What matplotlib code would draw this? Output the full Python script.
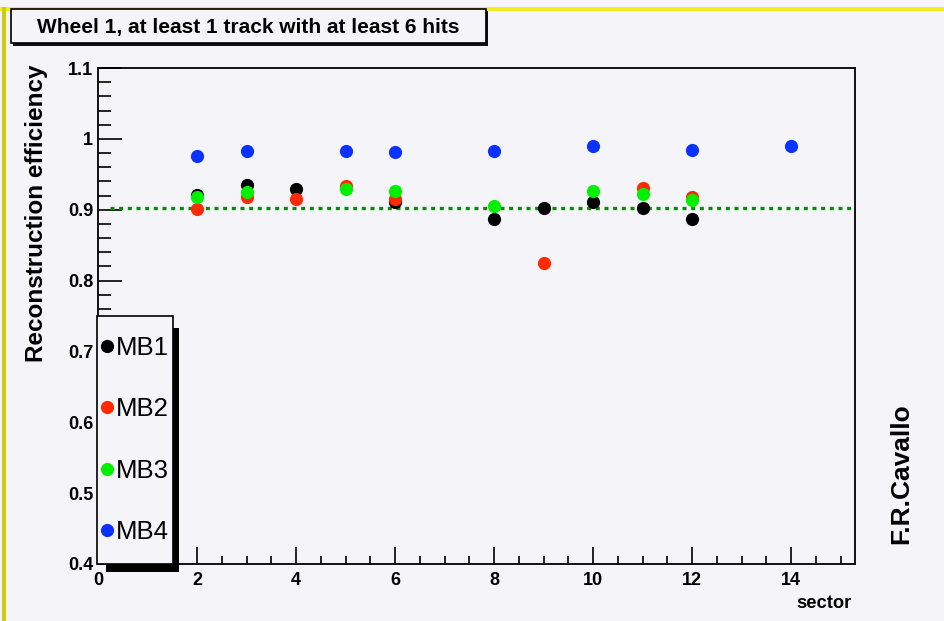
import matplotlib
matplotlib.use("Agg")
import matplotlib.pyplot as plt
from matplotlib import font_manager as fm
from matplotlib.patches import Rectangle
from matplotlib.ticker import MultipleLocator, FuncFormatter

# ---------------- data ----------------
title = "Wheel 1, at least 1 track with at least 6 hits"
x_label = "sector"
y_label = "Reconstruction efficiency"
author = "F.R.Cavallo"
reference_level = 0.9025

mb1_sector = [2, 3, 4, 6, 8, 9, 10, 11, 12]
mb1_eff = [0.921, 0.935, 0.929, 0.911, 0.887, 0.902, 0.911, 0.902, 0.887]

mb2_sector = [2, 3, 4, 5, 6, 9, 11, 12]
mb2_eff = [0.901, 0.918, 0.915, 0.933, 0.915, 0.825, 0.931, 0.918]

mb3_sector = [2, 3, 5, 6, 8, 10, 11, 12]
mb3_eff = [0.918, 0.925, 0.929, 0.926, 0.905, 0.926, 0.922, 0.914]

mb4_sector = [2, 3, 5, 6, 8, 10, 12, 14]
mb4_eff = [0.976, 0.983, 0.983, 0.981, 0.983, 0.990, 0.984, 0.990]

series_names = ["MB1", "MB2", "MB3", "MB4"]
series_colors = ["#000000", "#ff2a00", "#00f000", "#0a32ff"]

# ---------------- style ----------------
names = {f.name for f in fm.fontManager.ttflist}
base = "Liberation Sans" if "Liberation Sans" in names else "DejaVu Sans"
plt.rcParams["font.family"] = [base, "DejaVu Sans"]

bg = "#f5f4f8"
W, H = 944, 621
fig = plt.figure(figsize=(W / 100, H / 100), dpi=100, facecolor=bg)

def px(x0, y0, x1, y1):
    return [x0 / W, 1 - y1 / H, (x1 - x0) / W, (y1 - y0) / H]

def frect(x0, y0, x1, y1, **kw):
    r = Rectangle((x0 / W, 1 - y1 / H), (x1 - x0) / W, (y1 - y0) / H,
                  transform=fig.transFigure, **kw)
    fig.patches.append(r)
    return r

ax = fig.add_axes(px(98, 68, 855, 564))
ax.set_facecolor(bg)
ax.set_xlim(0, 15.29)
ax.set_ylim(0.4, 1.1)

for s in ax.spines.values():
    s.set_linewidth(1.3)

ax.xaxis.set_major_locator(MultipleLocator(2))
ax.xaxis.set_minor_locator(MultipleLocator(0.5))
ax.yaxis.set_major_locator(MultipleLocator(0.1))
ax.yaxis.set_minor_locator(MultipleLocator(0.02))
ax.yaxis.set_major_formatter(FuncFormatter(lambda v, p: f"{v:g}"))
ax.xaxis.set_major_formatter(FuncFormatter(lambda v, p: f"{v:g}"))

ax.tick_params(axis="y", which="major", direction="in", length=17, width=1.2, pad=3.5,
               labelsize=13, right=False)
ax.tick_params(axis="y", which="minor", direction="in", length=9.5, width=1.2, right=False)
ax.tick_params(axis="x", which="major", direction="in", length=12, width=1.2, pad=6,
               labelsize=13, top=False)
ax.tick_params(axis="x", which="minor", direction="in", length=6, width=1.2, top=False)
for lab in ax.get_xticklabels() + ax.get_yticklabels():
    lab.set_fontweight("bold")

# reference line
ax.hlines(reference_level, 0.25, 15.29, colors="#0a8a0a", linewidth=2.4,
          linestyles=(0, (1.2, 1.4)), zorder=2)

all_x = [mb1_sector, mb2_sector, mb3_sector, mb4_sector]
all_y = [mb1_eff, mb2_eff, mb3_eff, mb4_eff]
handles = []
for xs, ys, name, col in zip(all_x, all_y, series_names, series_colors):
    h, = ax.plot(xs, ys, linestyle="none", marker="o", markersize=9.5,
                 color=col, markeredgewidth=0, label=name, zorder=3)
    handles.append(h)

# legend frame (ROOT style with heavy shadow) drawn on top of the axes
frect(173, 328, 179, 572, facecolor="black", edgecolor="none", zorder=5)
frect(106, 564, 179, 572, facecolor="black", edgecolor="none", zorder=5)
frect(97, 316, 173, 564, facecolor=bg, edgecolor="black", linewidth=1.2, zorder=6)

leg = ax.legend(handles=handles, loc="center",
                bbox_to_anchor=(133.5 / W, 1 - 440 / H), bbox_transform=fig.transFigure,
                frameon=False, prop={"size": 18.5},
                handlelength=0.7, handletextpad=0.02,
                labelspacing=1.46, borderpad=0.0, markerscale=1.0)
leg.remove()
fig.legends.append(leg)
leg.set_zorder(7)
leg.set_figure(fig)

# axis labels
fig.text(37 / W, 1 - 213 / H, y_label, rotation=90, ha="center", va="center",
         fontsize=17.5, fontweight="bold")
fig.text(852 / W, 1 - 603 / H, x_label, ha="right", va="center",
         fontsize=13.2, fontweight="bold")
fig.text(901 / W, 1 - 474 / H, author, rotation=90, ha="center", va="center",
         fontsize=19, fontweight="bold")

# title box with shadow
frect(13, 11, 488, 46, facecolor="#111111", edgecolor="none", zorder=1)
frect(11, 9, 486, 43, facecolor=bg, edgecolor="black", linewidth=1.2, zorder=2)
fig.text(248 / W, 1 - 28 / H, title, ha="center", va="center",
         fontsize=15, fontweight="bold", zorder=3)

# yellow frame of the canvas
frect(0, 7, W, 11, facecolor="#f2ee1e", edgecolor="none", zorder=0)
frect(2, 7, 6, H, facecolor="#cfcc10", edgecolor="none", zorder=0)

fig.savefig("out.png", dpi=100, facecolor=bg)
